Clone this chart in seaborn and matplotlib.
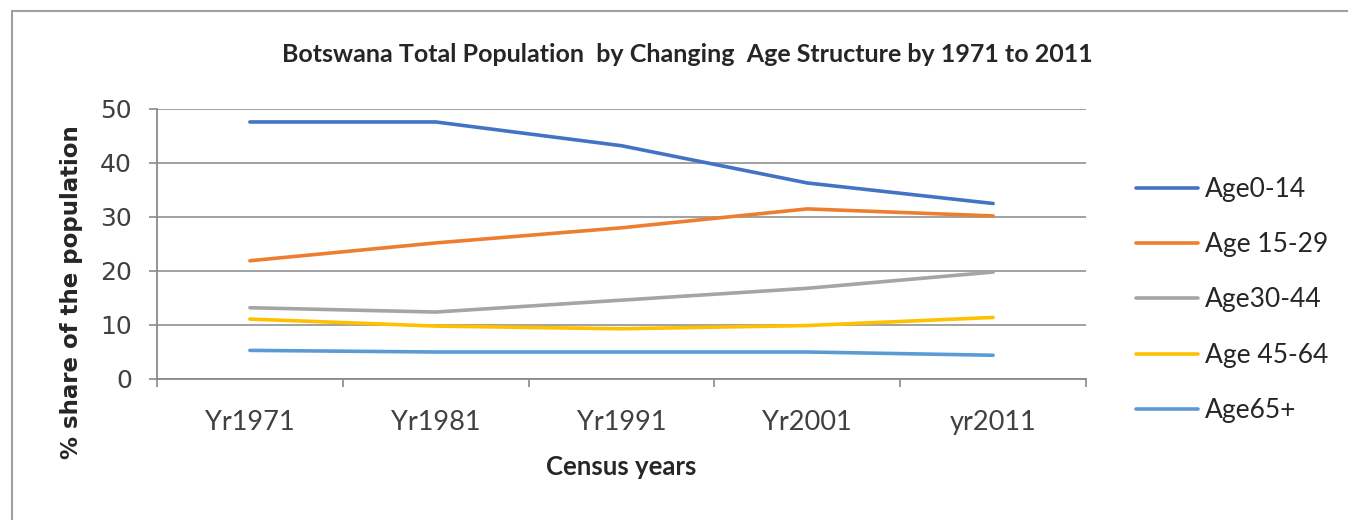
import matplotlib
matplotlib.use("Agg")
import matplotlib.pyplot as plt
import seaborn as sns
import pandas as pd
from matplotlib.patches import Rectangle

years = ["Yr1971", "Yr1981", "Yr1991", "Yr2001", "yr2011"]
age_0_14 = [47.6, 47.6, 43.2, 36.3, 32.5]
age_15_29 = [21.9, 25.2, 28.0, 31.5, 30.2]
age_30_44 = [13.2, 12.4, 14.6, 16.8, 19.8]
age_45_64 = [11.1, 9.8, 9.3, 9.9, 11.4]
age_65_plus = [5.3, 5.0, 5.0, 5.0, 4.4]
series_names = ["Age0-14", "Age 15-29", "Age30-44", "Age 45-64", "Age65+"]
colors = ["#4472C4", "#ED7D31", "#A5A5A5", "#FFC000", "#5B9BD5"]

series_vals = [age_0_14, age_15_29, age_30_44, age_45_64, age_65_plus]
rows = []
for name, vals in zip(series_names, series_vals):
    for yr, v in zip(years, vals):
        rows.append({"year": yr, "share": v, "group": name})
df = pd.DataFrame(rows)

sns.set_theme(style="white")
plt.rcParams["font.family"] = ["DejaVu Sans"]

fig = plt.figure(figsize=(13.48, 5.2), dpi=100)
ax = fig.add_axes([157/1348, 1-379/520, (1086-157)/1348, (379-109)/520])

sns.lineplot(data=df, x="year", y="share", hue="group", hue_order=series_names,
             palette=colors, linewidth=2.6, sort=False, ax=ax, legend=True)

ax.set_xlim(-0.5, 4.5)
ax.set_ylim(0, 50)
ax.set_yticks([0, 10, 20, 30, 40, 50])
ax.yaxis.grid(True, color="#9a9a9a", linewidth=1.3)
ax.set_axisbelow(True)
for s in ["top", "right"]:
    ax.spines[s].set_visible(False)
for s in ["left", "bottom"]:
    ax.spines[s].set_color("#8a8a8a")
    ax.spines[s].set_linewidth(1.3)

ax.set_xticks([-0.5, 0.5, 1.5, 2.5, 3.5, 4.5], minor=True)
ax.tick_params(axis="x", which="major", length=0, pad=22)
ax.tick_params(axis="x", which="minor", length=6, width=1.2, color="#8a8a8a", direction="out", bottom=True)
ax.tick_params(axis="y", which="major", length=6, width=1.2, color="#8a8a8a", direction="out", left=True, pad=12)

for lab in ax.get_xticklabels():
    lab.set_fontfamily("Lato")
    lab.set_fontsize(19.5)
    lab.set_color("#404040")
for lab in ax.get_yticklabels():
    lab.set_fontfamily("DejaVu Sans")
    lab.set_fontsize(18)
    lab.set_color("#404040")

ax.set_xlabel("Census years", fontfamily="Lato", fontweight="bold", fontsize=18.5,
              color="#262626")
ax.xaxis.set_label_coords(0.5, -(467-379)/270, transform=ax.transAxes)
ax.xaxis.label.set_va("center")
ax.set_ylabel("% share of the population", fontfamily="DejaVu Sans", fontweight="bold",
              fontsize=16.5, color="#262626")
ax.yaxis.set_label_coords(-(157-72)/929, (379-292)/270)
ax.yaxis.label.set_va("center")

fig.text(0.51, 1-55/520, "Botswana Total Population  by Changing  Age Structure by 1971 to 2011",
         ha="center", va="center", fontfamily="Lato", fontweight="bold", fontsize=18,
         color="#262626")

leg = ax.legend(loc="center left", bbox_to_anchor=(1.04, (379-300)/270), frameon=False,
                handlelength=2.35, handletextpad=0.25, labelspacing=1.15,
                borderpad=0, prop={"family": "Lato", "size": 19})
for t in leg.get_texts():
    t.set_color("#262626")
for h in leg.get_lines():
    h.set_linewidth(2.6)

fig.patches.append(Rectangle((12/1348, -0.01), 1.0, 1-11/520+0.01, transform=fig.transFigure,
                             fill=False, edgecolor="#a0a0a0", linewidth=1.5, clip_on=False))

fig.savefig("out.png", dpi=100)
